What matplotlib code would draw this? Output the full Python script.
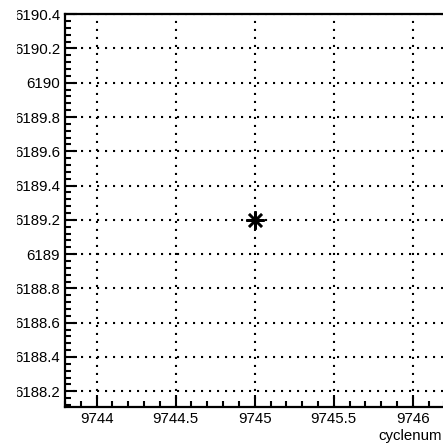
import matplotlib.pyplot as plt
from matplotlib.ticker import MultipleLocator
from matplotlib.patches import Rectangle

plt.rcParams['font.family'] = ['Liberation Sans', 'DejaVu Sans']

# one measurement point
cyclenum = [9745.0]
value = [6189.2]

x_range = (9743.8, 9746.2)
y_range = (6188.11, 6190.401)

fig = plt.figure(figsize=(4.43, 4.44), dpi=100)
# axes run a bit past the right edge, like the cropped original
ax = fig.add_axes([65 / 443, 37.3 / 444, 379.4 / 443, 392.7 / 444])

ax.plot(cyclenum, value, linestyle='none', marker=(8, 2, 0), markersize=13,
        markeredgewidth=1.8, color='black', zorder=5)

ax.set_xlim(*x_range)
ax.set_ylim(*y_range)

ax.xaxis.set_major_locator(MultipleLocator(0.5))
ax.xaxis.set_minor_locator(MultipleLocator(0.1))
ax.yaxis.set_major_locator(MultipleLocator(0.2))
ax.yaxis.set_minor_locator(MultipleLocator(0.04))
ax.xaxis.set_major_formatter(plt.FuncFormatter(lambda v, p: '%g' % v))
ax.yaxis.set_major_formatter(plt.FuncFormatter(lambda v, p: ('%.1f' % v).rstrip('0').rstrip('.')))

ax.tick_params(which='both', direction='in', top=False, right=False, width=1.5, labelsize=10.8)
ax.tick_params(axis='x', which='major', length=8.5, pad=3.5)
ax.tick_params(axis='x', which='minor', length=4)
ax.tick_params(axis='y', which='major', length=8.5, pad=3.5)
ax.tick_params(axis='y', which='minor', length=4.5)

for s in ax.spines.values():
    s.set_linewidth(1.6)

# dots about 8 px apart
ax.grid(True, which='major', color='black', linewidth=1.5, linestyle=(0, (1, 2.84)))

fig.text(442 / 443, 1 - 436 / 444, 'cyclenum', ha='right', va='center', fontsize=10.8)

# the original pad cuts the long y labels off at the left
fig.add_artist(Rectangle((0, 0), 16.5 / 443, 1, transform=fig.transFigure,
                         facecolor='white', edgecolor='none', zorder=10))

fig.savefig('out.png', dpi=100)
